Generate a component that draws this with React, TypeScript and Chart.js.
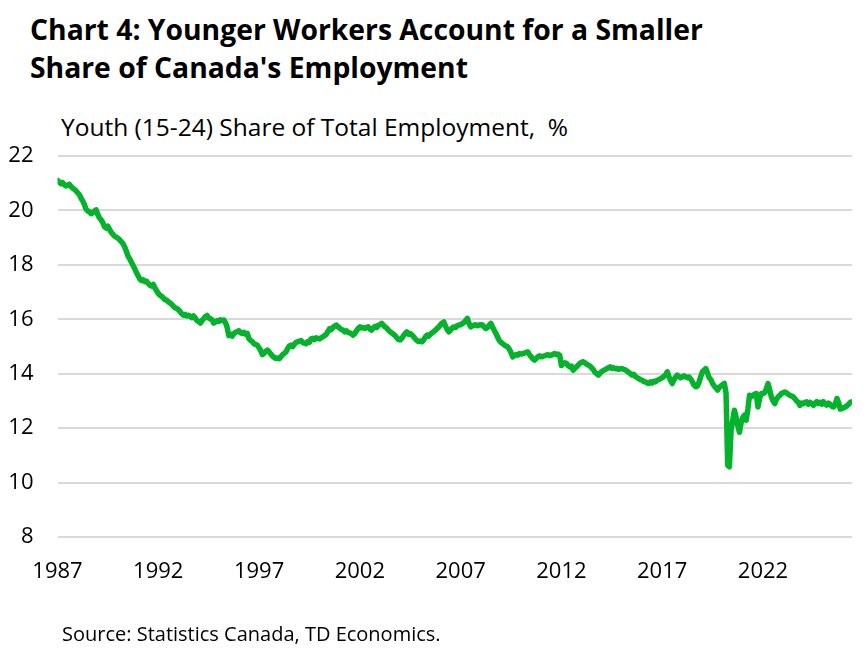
import { Chart, registerables } from 'chart.js';
import { useEffect, useRef } from 'react';

Chart.register(...registerables);

// Youth (15-24) share of total employment, %, monthly, Jan 1987 onward
const startYear = 1987;
const s1987 = [21.1, 21.05, 20.98, 21.02, 20.95, 20.9, 20.93, 20.96, 20.88, 20.82, 20.78, 20.72];
const s1988 = [20.65, 20.58, 20.45, 20.35, 20.22, 20.05, 19.98, 19.95, 19.88, 19.92, 19.98, 20.02];
const s1989 = [19.85, 19.72, 19.65, 19.55, 19.4, 19.35, 19.42, 19.3, 19.2, 19.12, 19.05, 19.02];
const s1990 = [18.98, 18.92, 18.85, 18.78, 18.65, 18.5, 18.32, 18.22, 18.1, 17.98, 17.85, 17.72];
const s1991 = [17.6, 17.48, 17.42, 17.45, 17.38, 17.4, 17.32, 17.25, 17.22, 17.28, 17.15, 17.05];
const s1992 = [16.95, 16.88, 16.85, 16.78, 16.72, 16.7, 16.64, 16.6, 16.55, 16.48, 16.42, 16.4];
const s1993 = [16.35, 16.28, 16.2, 16.15, 16.18, 16.12, 16.15, 16.1, 16.06, 16.12, 16.05, 15.95];
const s1994 = [15.92, 15.86, 15.95, 16.02, 16.1, 16.14, 16.05, 16.02, 15.98, 15.86, 15.9, 15.95];
const s1995 = [15.92, 15.98, 15.95, 15.97, 15.88, 15.7, 15.4, 15.45, 15.38, 15.48, 15.52, 15.55];
const s1996 = [15.58, 15.5, 15.48, 15.52, 15.45, 15.48, 15.28, 15.22, 15.18, 15.1, 15.08, 15.05];
const s1997 = [14.95, 14.85, 14.7, 14.75, 14.82, 14.87, 14.8, 14.72, 14.65, 14.6, 14.56, 14.58];
const s1998 = [14.55, 14.62, 14.7, 14.75, 14.8, 14.92, 15.02, 15.05, 15.0, 15.08, 15.15, 15.18];
const s1999 = [15.2, 15.22, 15.15, 15.12, 15.1, 15.18, 15.16, 15.28, 15.3, 15.25, 15.32, 15.3];
const s2000 = [15.28, 15.32, 15.36, 15.4, 15.45, 15.55, 15.66, 15.62, 15.7, 15.75, 15.79, 15.72];
const s2001 = [15.68, 15.62, 15.6, 15.54, 15.58, 15.52, 15.5, 15.46, 15.42, 15.48, 15.58, 15.66];
const s2002 = [15.72, 15.68, 15.7, 15.66, 15.7, 15.72, 15.64, 15.6, 15.68, 15.74, 15.7, 15.78];
const s2003 = [15.8, 15.85, 15.78, 15.72, 15.68, 15.6, 15.54, 15.5, 15.45, 15.4, 15.32, 15.26];
const s2004 = [15.24, 15.3, 15.4, 15.48, 15.54, 15.45, 15.48, 15.42, 15.36, 15.28, 15.22, 15.18];
const s2005 = [15.2, 15.17, 15.25, 15.35, 15.42, 15.38, 15.45, 15.5, 15.55, 15.6, 15.66, 15.72];
const s2006 = [15.8, 15.86, 15.9, 15.75, 15.62, 15.54, 15.6, 15.68, 15.72, 15.7, 15.76, 15.79];
const s2007 = [15.8, 15.84, 15.88, 15.95, 16.03, 15.85, 15.72, 15.76, 15.78, 15.8, 15.76, 15.79];
const s2008 = [15.8, 15.79, 15.72, 15.66, 15.7, 15.78, 15.85, 15.72, 15.6, 15.48, 15.35, 15.22];
const s2009 = [15.15, 15.11, 15.05, 15.02, 14.99, 14.9, 14.78, 14.62, 14.66, 14.7, 14.68, 14.74];
const s2010 = [14.72, 14.74, 14.76, 14.78, 14.8, 14.7, 14.62, 14.55, 14.5, 14.56, 14.62, 14.66];
const s2011 = [14.62, 14.64, 14.66, 14.68, 14.7, 14.66, 14.68, 14.72, 14.74, 14.7, 14.72, 14.68];
const s2012 = [14.3, 14.38, 14.4, 14.38, 14.3, 14.25, 14.28, 14.13, 14.2, 14.25, 14.32, 14.38];
const s2013 = [14.42, 14.44, 14.4, 14.35, 14.32, 14.28, 14.22, 14.15, 14.05, 14.0, 13.95, 14.02];
const s2014 = [14.08, 14.12, 14.15, 14.18, 14.22, 14.25, 14.2, 14.22, 14.18, 14.2, 14.16, 14.18];
const s2015 = [14.19, 14.16, 14.14, 14.1, 14.05, 14.0, 13.95, 13.98, 13.9, 13.86, 13.82, 13.78];
const s2016 = [13.76, 13.72, 13.7, 13.66, 13.64, 13.7, 13.66, 13.72, 13.7, 13.76, 13.78, 13.82];
const s2017 = [13.85, 13.9, 13.95, 14.07, 13.9, 13.75, 13.64, 13.78, 13.88, 13.95, 13.9, 13.85];
const s2018 = [13.88, 13.92, 13.89, 13.85, 13.88, 13.8, 13.7, 13.58, 13.52, 13.55, 13.7, 13.9];
const s2019 = [14.08, 14.13, 14.19, 14.02, 13.85, 13.78, 13.64, 13.55, 13.48, 13.4, 13.5, 13.55];
const s2020 = [13.6, 13.64, 13.3, 10.64, 10.58, 11.9, 12.3, 12.66, 12.4, 12.1, 11.85, 12.2];
const s2021 = [12.4, 12.48, 12.29, 12.7, 13.21, 13.15, 13.2, 13.25, 13.27, 12.78, 13.1, 13.27];
const s2022 = [13.27, 13.3, 13.45, 13.64, 13.4, 13.15, 13.0, 12.9, 13.05, 13.15, 13.2, 13.28];
const s2023 = [13.3, 13.33, 13.3, 13.25, 13.2, 13.18, 13.15, 13.08, 13.0, 12.95, 12.84, 12.92];
const s2024 = [12.9, 12.95, 12.97, 12.88, 12.95, 12.9, 12.84, 12.92, 12.97, 12.9, 12.95, 12.88];
const s2025 = [12.97, 12.9, 12.85, 12.92, 12.88, 12.8, 12.78, 12.85, 13.09, 12.95, 12.7, 12.72];
const s2026 = [12.75, 12.78, 12.82, 12.88, 12.95, 12.97];

const seriesByYear = [
  s1987, s1988, s1989, s1990, s1991, s1992, s1993, s1994, s1995, s1996,
  s1997, s1998, s1999, s2000, s2001, s2002, s2003, s2004, s2005, s2006,
  s2007, s2008, s2009, s2010, s2011, s2012, s2013, s2014, s2015, s2016,
  s2017, s2018, s2019, s2020, s2021, s2022, s2023, s2024, s2025, s2026,
];

const yearTicks = [1987, 1992, 1997, 2002, 2007, 2012, 2017, 2022];
const yTicks = [8, 10, 12, 14, 16, 18, 20, 22];

const FONT = '"Open Sans", Lato, sans-serif';

const App: React.FC = () => {
  const canvasRef = useRef<HTMLCanvasElement | null>(null);
  const chartRef = useRef<Chart | null>(null);

  useEffect(() => {
    document.body.style.margin = '0';
    if (!canvasRef.current) return;

    const points = seriesByYear.flatMap((vals, i) =>
      vals.map((v, m) => ({ x: startYear + i + m / 12, y: v }))
    );
    const lastX = points[points.length - 1].x;

    chartRef.current = new Chart(canvasRef.current, {
      type: 'line',
      data: {
        datasets: [
          {
            label: 'Youth share',
            data: points,
            borderColor: '#05B22C',
            borderWidth: 5.5,
            borderJoinStyle: 'round',
            borderCapStyle: 'round',
            pointRadius: 0,
            tension: 0,
          },
        ],
      },
      options: {
        responsive: false,
        animation: false,
        layout: { padding: { top: 156, right: 16, bottom: 0, left: 0 } },
        plugins: { legend: { display: false }, tooltip: { enabled: false } },
        scales: {
          x: {
            type: 'linear',
            min: startYear,
            max: lastX,
            border: { display: false },
            grid: { display: false },
            afterBuildTicks: (scale: any) => {
              scale.ticks = yearTicks.map((v) => ({ value: v }));
            },
            afterFit: (scale: any) => {
              scale.height = 648 - 537;
            },
            ticks: {
              autoSkip: false,
              maxRotation: 0,
              padding: 14,
              color: '#000',
              font: { family: FONT, size: 22 },
              callback: (v: any) => String(v),
            },
          },
          y: {
            min: 8,
            max: 22,
            border: { display: false },
            grid: { color: '#D9D9D9', lineWidth: 2, drawTicks: false },
            afterBuildTicks: (scale: any) => {
              scale.ticks = yTicks.map((v) => ({ value: v }));
            },
            afterFit: (scale: any) => {
              scale.width = 57.5;
            },
            ticks: {
              padding: 24,
              color: '#000',
              font: { family: FONT, size: 22 },
            },
          },
        },
      },
    });

    return () => {
      chartRef.current?.destroy();
      chartRef.current = null;
    };
  }, []);

  return (
    <div style={{ position: 'relative', width: 868, height: 648, background: '#fff', fontFamily: FONT }}>
      <div
        style={{
          position: 'absolute',
          left: 30,
          top: 10,
          fontSize: 28.3,
          fontWeight: 700,
          lineHeight: '38px',
          color: '#000',
          whiteSpace: 'nowrap',
        }}
      >
        Chart 4: Younger Workers Account for a Smaller
        <br />
        Share of Canada's Employment
      </div>
      <div style={{ position: 'absolute', left: 61, top: 110, fontSize: 24.5, lineHeight: '34px', color: '#000', whiteSpace: 'pre' }}>
        Youth (15-24) Share of Total Employment,  %
      </div>
      <canvas ref={canvasRef} width={868} height={648} style={{ position: 'absolute', left: 0, top: 0 }} />
      <div style={{ position: 'absolute', left: 62, top: 620, fontSize: 20, lineHeight: '28px', color: '#000', whiteSpace: 'nowrap' }}>
        Source: Statistics Canada, TD Economics.
      </div>
    </div>
  );
};

export default App;
